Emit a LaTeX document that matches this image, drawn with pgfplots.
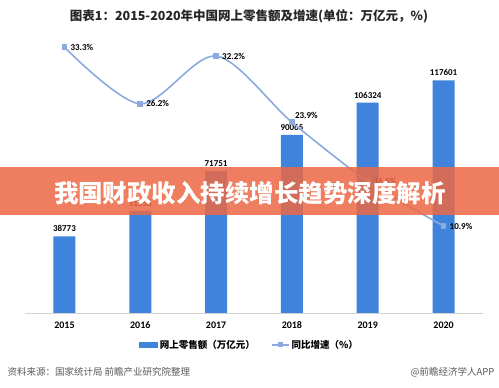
\documentclass[border=0pt]{standalone}
\usepackage{pgfplots}
\pgfplotsset{compat=1.18}
\usepackage{pgfplotstable}
\usepackage{fontspec}
\setmainfont{Carlito}
\newfontfamily\cjk{Noto Sans CJK SC}
\definecolor{barblue}{RGB}{64,131,220}
\definecolor{linecol}{RGB}{140,170,222}
\definecolor{banner}{RGB}{236,104,68}
\definecolor{srcgray}{RGB}{90,90,90}
\pgfplotstableread{
x y lab
0 38773 38773
1 51556 51556
2 71751 71751
3 90065 90065
4 106324 106324
5 117601 117601
}\bars
\pgfplotstableread{
x y lab
0 33.3 33.3\%
1 26.2 26.2\%
2 32.2 32.2\%
3 23.9 {}
4 16.5 16.5\%
5 10.9 10.9\%
}\rates
\begin{document}
\begin{tikzpicture}[x=1pt,y=1pt]
\path[fill=white,use as bounding box] (0,0) rectangle (499,388);
\begin{axis}[
  at={(25pt,75pt)}, anchor=south west,
  scale only axis, width=458pt, height=277pt,
  xmin=-0.52, xmax=5.52, ymin=0, ymax=140000,
  axis x line*=bottom, hide y axis,
  x axis line style={draw=gray!35, line width=0.6pt},
  xtick={0,1,2,3,4,5},
  xticklabels={2015,2016,2017,2018,2019,2020},
  major tick length=0pt,
  xticklabel style={font=\bfseries\fontsize{10}{11}\selectfont, yshift=-5pt},
  legend style={at={(axis description cs:0.49,-0.115)}, anchor=center, draw=none,
    font=\cjk\bfseries\fontsize{9.5}{11}\selectfont, legend columns=2,
    /tikz/every even column/.append style={column sep=14pt}},
]
\addplot[ybar, bar width=22pt, fill=barblue, draw=none,
  legend image code/.code={\fill[barblue] (0pt,-2.8pt) rectangle (19pt,2.8pt);},
  nodes near coords, point meta=explicit symbolic,
  every node near coord/.style={font=\bfseries\fontsize{9}{10}\selectfont, anchor=south, yshift=1pt, black}]
  table[x=x,y=y,meta=lab] {\bars};
\addlegendentry{网上零售额（万亿元）}
\addlegendimage{linecol, line width=1.5pt, mark=square*, mark size=1.8pt}
\addlegendentry{同比增速（\%）}
\end{axis}
\begin{axis}[
  at={(25pt,75pt)}, anchor=south west,
  scale only axis, width=458pt, height=277pt,
  xmin=-0.52, xmax=5.52, ymin=0, ymax=34.7,
  hide axis, clip=false,
]
\addplot[smooth, linecol, line width=1.6pt, mark=square*, mark size=2pt,
  nodes near coords, point meta=explicit symbolic,
  every node near coord/.style={font=\bfseries\fontsize{9}{10}\selectfont, anchor=west, xshift=2pt, black}]
  table[x=x,y=y,meta=lab] {\rates};
\node[font=\bfseries\fontsize{9}{10}\selectfont, anchor=south west, inner sep=1pt] at (axis cs:3,23.9) [xshift=2pt,yshift=2pt] {23.9\%};
\end{axis}
% banner overlay
\fill[banner, opacity=0.85] (0,173) rectangle (499,221);
\node[text=white, font=\cjk\bfseries\fontsize{24.5}{26}\selectfont] at (250,195) {我国财政收入持续增长趋势深度解析};
% title
\node[font=\cjk\bfseries\fontsize{12.5}{14}\selectfont, text=black!85] at (249,372) {图表1：2015-2020年中国网上零售额及增速(单位：万亿元，\%)};
% source
\node[anchor=west, font=\cjk\fontsize{9.5}{11}\selectfont, text=srcgray] at (4,16) {资料来源：国家统计局 前瞻产业研究院整理};
\node[anchor=east, font=\cjk\fontsize{9.5}{11}\selectfont, text=srcgray] at (498,16) {@前瞻经济学人APP};
\end{tikzpicture}
\end{document}
